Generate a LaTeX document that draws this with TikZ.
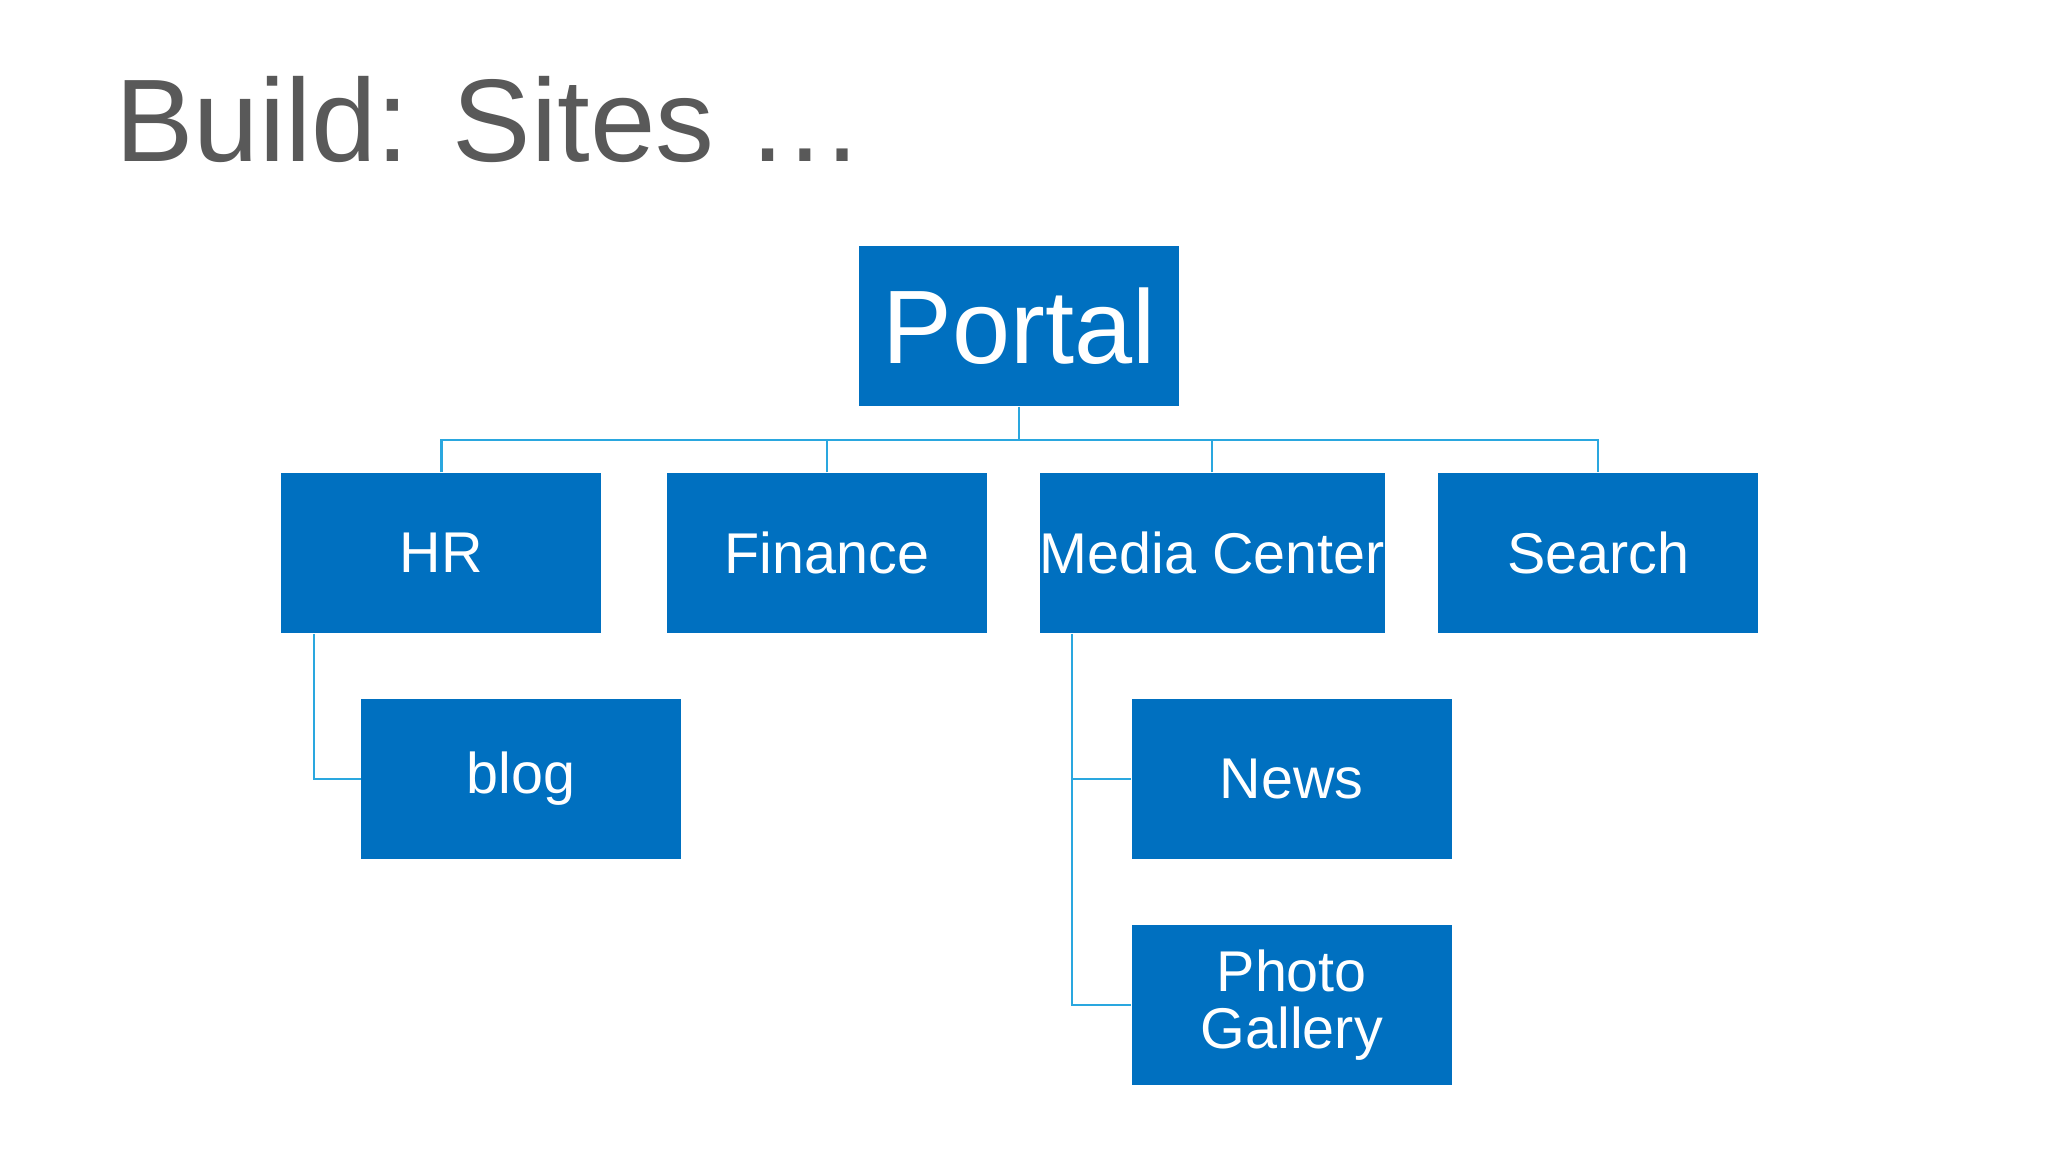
\documentclass[tikz,border=0pt]{standalone}
\usepackage{fontspec}
\setmainfont{Liberation Sans}
\definecolor{boxblue}{HTML}{0070C0}
\definecolor{lineblue}{HTML}{2AA7DF}
\definecolor{titlegrey}{HTML}{595959}
\begin{document}
\begin{tikzpicture}[x=0.5pt,y=-0.5pt,
  site/.style={fill=boxblue,draw=none,text=white,minimum width=122.5pt,minimum height=61.5pt,inner sep=0pt,align=center,font=\fontsize{22}{23}\selectfont},
  conn/.style={draw=lineblue,line width=0.8pt}]
\useasboundingbox (0,0) rectangle (1568,882);
\fill[white] (0,0) rectangle (1568,882);
\node[anchor=base west,text=titlegrey,font=\fontsize{45}{50}\selectfont,inner sep=0pt] (title) at (88,124) {Build: Sites …};
\node[site,font=\fontsize{40}{44}\selectfont] (portal) at (780.5,249.5) {Portal};
\node[site] (hr) at (338,423.5) {HR};
\node[site] (fin) at (633,423.5) {Finance};
\node[site] (media) at (928,423.5) {Media Center};
\node[site] (search) at (1223.5,423.5) {Search};
\node[site] (blog) at (399,596.5) {blog};
\node[site] (news) at (989,596.5) {News};
\node[site,font=\fontsize{22}{22}\selectfont] (photo) at (989,769.5) {Photo\\Gallery};
\coordinate (bus) at (780.5,337);
\draw[conn] (portal.south) -- (bus);
\draw[conn] (hr.north) |- (bus) -| (search.north);
\draw[conn] (fin.north) -- (fin.north |- bus);
\draw[conn] (media.north) -- (media.north |- bus);
\draw[conn] ([xshift=12.5pt]hr.south west) |- (blog.west);
\draw[conn] ([xshift=12.5pt]media.south west) |- (news.west);
\draw[conn] ([xshift=12.5pt]media.south west) |- (photo.west);
\end{tikzpicture}
\end{document}
